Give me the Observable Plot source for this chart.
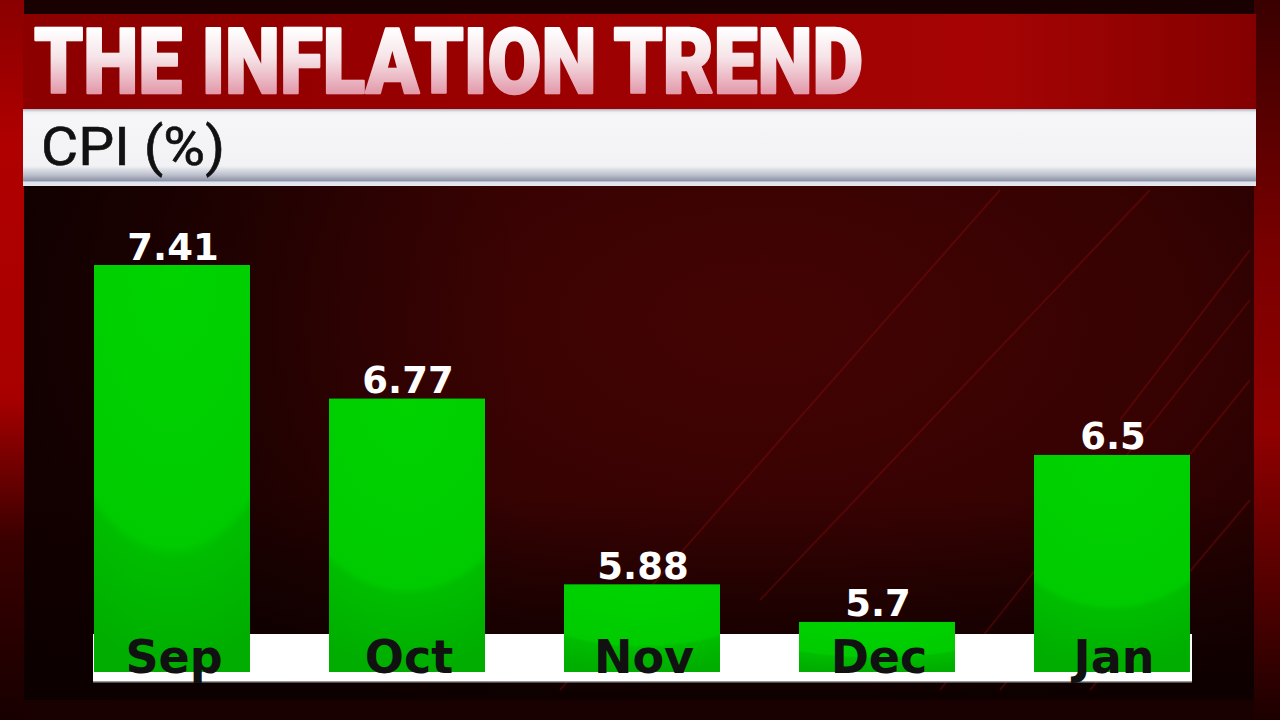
<!DOCTYPE html>
<html>
<head>
<meta charset="utf-8">
<script src="https://cdn.jsdelivr.net/npm/d3@7"></script>
<script src="https://cdn.jsdelivr.net/npm/@observablehq/plot@0.6"></script>
<style>
html,body{margin:0;padding:0;width:1280px;height:720px;overflow:hidden;background:#1a0000;}
#stage{position:relative;width:1280px;height:720px;}
#bg{position:absolute;left:0;top:0;}
#chart{position:absolute;left:0;top:0;width:1280px;height:720px;}
g[aria-label="months"] text{letter-spacing:3px;}
g[aria-label="values"] text{letter-spacing:1px;}
</style>
</head>
<body>
<div id="stage">
<svg id="bg" width="1280" height="720" xmlns="http://www.w3.org/2000/svg">
  <defs>
    <linearGradient id="leftStrip" x1="0" y1="0" x2="0" y2="1">
      <stop offset="0" stop-color="#8a0000"/>
      <stop offset="0.2" stop-color="#b00000"/>
      <stop offset="0.55" stop-color="#a80000"/>
      <stop offset="0.75" stop-color="#3a0000"/>
      <stop offset="1" stop-color="#180000"/>
    </linearGradient>
    <linearGradient id="rightStrip" x1="0" y1="0" x2="0" y2="1">
      <stop offset="0" stop-color="#3a0000"/>
      <stop offset="0.35" stop-color="#7a0000"/>
      <stop offset="0.6" stop-color="#900000"/>
      <stop offset="0.85" stop-color="#4a0000"/>
      <stop offset="1" stop-color="#1c0000"/>
    </linearGradient>
    <radialGradient id="panelGlow" cx="0.6" cy="0.45" r="0.62">
      <stop offset="0" stop-color="#440303"/>
      <stop offset="0.55" stop-color="#360202"/>
      <stop offset="1" stop-color="#1c0000"/>
    </radialGradient>
    <linearGradient id="panelLeftShade" x1="0" y1="0" x2="1" y2="0">
      <stop offset="0" stop-color="#0e0000" stop-opacity="0.7"/>
      <stop offset="0.4" stop-color="#0e0000" stop-opacity="0"/>
    </linearGradient>
    <linearGradient id="panelBottomShade" x1="0" y1="0" x2="0" y2="1">
      <stop offset="0.7" stop-color="#0a0000" stop-opacity="0"/>
      <stop offset="1" stop-color="#0a0000" stop-opacity="0.8"/>
    </linearGradient>
    <linearGradient id="titleBand" x1="0" y1="0" x2="1" y2="0">
      <stop offset="0" stop-color="#8c0000"/>
      <stop offset="0.45" stop-color="#9c0000"/>
      <stop offset="0.78" stop-color="#a60404"/>
      <stop offset="1" stop-color="#840000"/>
    </linearGradient>
    <linearGradient id="titleText" gradientUnits="userSpaceOnUse" x1="0" y1="28" x2="0" y2="93">
      <stop offset="0" stop-color="#ffffff"/>
      <stop offset="0.45" stop-color="#f6e4e8"/>
      <stop offset="1" stop-color="#e39aab"/>
    </linearGradient>
    <linearGradient id="subBand" gradientUnits="userSpaceOnUse" x1="0" y1="109" x2="0" y2="186">
      <stop offset="0" stop-color="#aeb2c0"/>
      <stop offset="0.04" stop-color="#eeeff3"/>
      <stop offset="0.08" stop-color="#f6f6f8"/>
      <stop offset="0.74" stop-color="#f2f2f5"/>
      <stop offset="0.86" stop-color="#babecb"/>
      <stop offset="0.93" stop-color="#8e94a8"/>
      <stop offset="0.95" stop-color="#dfe2ea"/>
      <stop offset="1" stop-color="#e6e8ef"/>
    </linearGradient>
    <radialGradient id="barGloss" cx="0.5" cy="0" r="1" gradientTransform="translate(0.5 0) scale(1.25 1) translate(-0.5 0)">
      <stop offset="0" stop-color="#00d300"/>
      <stop offset="0.69" stop-color="#00cb00"/>
      <stop offset="0.72" stop-color="#00bd00"/>
      <stop offset="1" stop-color="#00ad00"/>
    </radialGradient>
  </defs>
  <rect x="0" y="0" width="1280" height="720" fill="#1a0101"/>
  <rect x="0" y="0" width="24" height="720" fill="url(#leftStrip)"/>
  <rect x="1254" y="0" width="26" height="720" fill="url(#rightStrip)"/>
  <rect x="24" y="13" width="1230" height="687" fill="url(#panelGlow)"/>
  <rect x="24" y="13" width="1230" height="687" fill="url(#panelLeftShade)"/>
  <rect x="24" y="13" width="1230" height="687" fill="url(#panelBottomShade)"/>
  <g stroke="#9a1212" stroke-opacity="0.3" stroke-width="2" fill="none">
    <line x1="940" y1="690" x2="1250" y2="300"/>
    <line x1="1000" y1="690" x2="1250" y2="380"/>
    <line x1="760" y1="600" x2="1150" y2="190"/>
    <line x1="560" y1="690" x2="1000" y2="190"/>
    <line x1="1090" y1="690" x2="1250" y2="500"/>
    <line x1="1120" y1="420" x2="1250" y2="250"/>
  </g>
  <rect x="23" y="14" width="1233" height="95" fill="url(#titleBand)"/>
  <text x="34" y="93" font-family="Roboto" font-weight="900" font-size="91" textLength="829" lengthAdjust="spacingAndGlyphs" fill="url(#titleText)" stroke="url(#titleText)" stroke-width="2.5" stroke-linejoin="round" id="titleEl"></text>
  <rect x="23" y="109" width="1233" height="77" fill="url(#subBand)"/>
  <text x="41" y="165" font-family="Roboto" font-weight="400" font-size="53" textLength="184" lengthAdjust="spacingAndGlyphs" fill="#111111" stroke="#111111" stroke-width="0.6" id="subEl"></text>
  <rect x="93" y="634" width="1099" height="48" fill="#ffffff"/>
  <rect x="93" y="681" width="1099" height="1.5" fill="#9a9a9a"/>
</svg>
<div id="chart"></div>
</div>
<script>
const months = ["Sep", "Oct", "Nov", "Dec", "Jan"];
const cpi = [7.41, 6.77, 5.88, 5.7, 6.5];
const valueLabels = ["7.41", "6.77", "5.88", "5.7", "6.5"];
const titleText = "THE INFLATION TREND";
const subtitleText = "CPI (%)";
const yBase = 5.46;

document.getElementById("titleEl").textContent = titleText;
document.getElementById("subEl").textContent = subtitleText;

const data = months.map((m, i) => ({month: m, value: cpi[i], label: valueLabels[i]}));

const chart = Plot.plot({
  width: 1280,
  height: 720,
  marginLeft: 0, marginRight: 0, marginTop: 0, marginBottom: 0,
  style: {background: "transparent", overflow: "visible"},
  x: {domain: months, range: [93, 1192], paddingInner: 0.336, paddingOuter: 0, axis: null},
  y: {domain: [yBase, 7.41], range: [672, 265], axis: null},
  marks: [
    Plot.barY(data, {x: "month", y1: yBase, y2: "value", fill: "url(#barGloss)"}),
    Plot.text(data, {x: "month", y: "value", text: "label", lineAnchor: "bottom", dy: -6, dx: 0.5,
      fill: "white", fontSize: 37, fontWeight: "bold", fontFamily: "DejaVu Sans", ariaLabel: "values"}),
    Plot.text(data, {x: "month", y: yBase, text: "month", lineAnchor: "bottom", dx: 1.5,
      fill: "#111111", fontSize: 46, fontWeight: "bold", fontFamily: "DejaVu Sans", ariaLabel: "months"})
  ]
});
document.getElementById("chart").appendChild(chart);
</script>
</body>
</html>
